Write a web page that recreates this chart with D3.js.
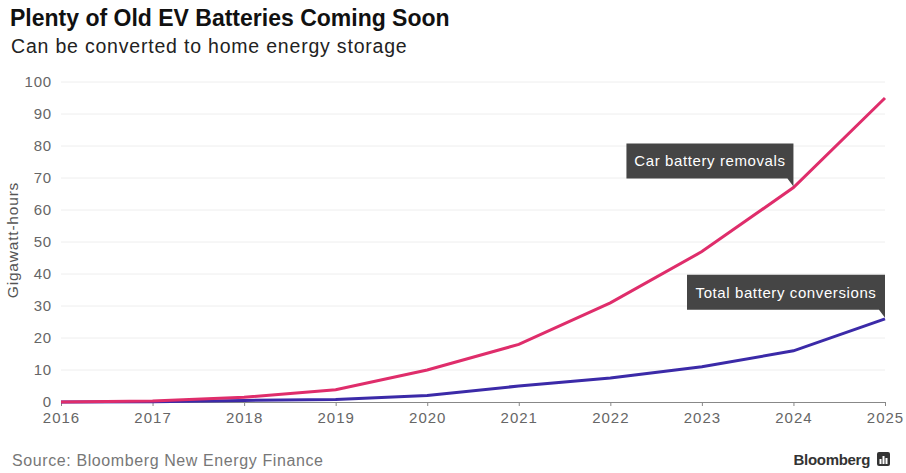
<!DOCTYPE html>
<html>
<head>
<meta charset="utf-8">
<script src="https://cdn.jsdelivr.net/npm/d3@7"></script>
<style>
  body { margin: 0; background: #fff; }
  svg { font-family: "Liberation Sans", Arial, sans-serif; }
</style>
</head>
<body>
<svg width="906" height="473"></svg>
<script>
const years = [2016, 2017, 2018, 2019, 2020, 2021, 2022, 2023, 2024, 2025]
const removals = [0, 0.3, 1.5, 3.8, 10, 18, 31, 47, 67, 95]
const conversions = [0, 0.1, 0.5, 0.8, 2, 5, 7.5, 11, 16, 26]
const yTicks = [0, 10, 20, 30, 40, 50, 60, 70, 80, 90, 100]

const svg = d3.select('svg')

const x = d3.scaleLinear().domain([2016, 2025]).range([61, 885])
const y = d3.scaleLinear().domain([0, 100]).range([402, 82])

svg.append('text')
    .attr('x', 10).attr('y', 26)
    .attr('font-size', 23).attr('font-weight', 'bold').attr('fill', '#111')
    .text('Plenty of Old EV Batteries Coming Soon')
svg.append('text')
    .attr('x', 11).attr('y', 53)
    .attr('font-size', 19.5).attr('fill', '#222')
    .attr('letter-spacing', 0.8)
    .text('Can be converted to home energy storage')

// grid + y labels
const grid = svg.append('g')
grid.selectAll('line').data(yTicks.filter(d => d > 0))
    .enter().append('line')
        .attr('x1', 61).attr('x2', 885)
        .attr('y1', d => y(d)).attr('y2', d => y(d))
        .attr('stroke', '#eeeeee').attr('stroke-width', 1)
grid.selectAll('text').data(yTicks)
    .enter().append('text')
        .attr('x', 52).attr('y', d => y(d))
        .attr('dy', '0.35em')
        .attr('text-anchor', 'end')
        .attr('font-size', 15).attr('fill', '#666')
        .attr('letter-spacing', 0.8)
        .text(d => d)

svg.append('text')
    .attr('transform', 'translate(18,240) rotate(-90)')
    .attr('text-anchor', 'middle')
    .attr('font-size', 15.5).attr('fill', '#555')
    .attr('letter-spacing', 0.8)
    .text('Gigawatt-hours')

// x axis
const xAxis = svg.append('g')
    .attr('transform', `translate(0,${y(0)})`)
    .call(d3.axisBottom(x).tickValues(years).tickFormat(d3.format('d')).tickSize(4).tickPadding(6))
xAxis.select('.domain').attr('stroke', '#888')
xAxis.selectAll('.tick line').attr('stroke', '#888')
xAxis.selectAll('.tick text')
    .attr('font-size', 15).attr('fill', '#666')
    .attr('letter-spacing', 1)
    .attr('font-family', '"Liberation Sans", Arial, sans-serif')

// lines
const line = d3.line().x((d, i) => x(years[i])).y(d => y(d))
svg.append('path').datum(conversions)
    .attr('d', line).attr('fill', 'none')
    .attr('stroke', '#3b2aa8').attr('stroke-width', 3)
svg.append('path').datum(removals)
    .attr('d', line).attr('fill', 'none')
    .attr('stroke', '#df2d6b').attr('stroke-width', 3)

// annotations
function callout(label, px, py, w) {
    const bottom = py - 9
    const top = bottom - 35
    const g = svg.append('g')
    g.append('path')
        .attr('d', `M${px - w},${top} H${px} V${bottom} L${px},${py - 1} L${px - 6},${bottom} H${px - w} Z`)
        .attr('fill', '#454545')
    g.append('text')
        .attr('x', px - w / 2).attr('y', top + 17.5)
        .attr('dy', '0.35em').attr('text-anchor', 'middle')
        .attr('font-size', 15).attr('fill', '#fff')
        .attr('letter-spacing', 0.6)
        .text(label)
}
callout('Car battery removals', x(2024), y(removals[8]), 167)
callout('Total battery conversions', x(2025), y(conversions[9]), 198)

// footer
svg.append('text')
    .attr('x', 12).attr('y', 466)
    .attr('font-size', 16).attr('fill', '#777')
    .attr('letter-spacing', 0.6)
    .text('Source: Bloomberg New Energy Finance')
svg.append('text')
    .attr('x', 870).attr('y', 465)
    .attr('text-anchor', 'end')
    .attr('font-size', 15).attr('font-weight', 'bold').attr('fill', '#333')
    .attr('letter-spacing', -0.3)
    .text('Bloomberg')
const logo = svg.append('g').attr('transform', 'translate(877,452)')
logo.append('rect').attr('width', 13).attr('height', 14).attr('rx', 2).attr('fill', '#333')
logo.selectAll('.bar').data([5, 8, 6])
    .enter().append('rect')
        .attr('x', (d, i) => 2.5 + i * 3)
        .attr('y', d => 12 - d)
        .attr('width', 2).attr('height', d => d)
        .attr('fill', '#fff')
</script>
</body>
</html>
